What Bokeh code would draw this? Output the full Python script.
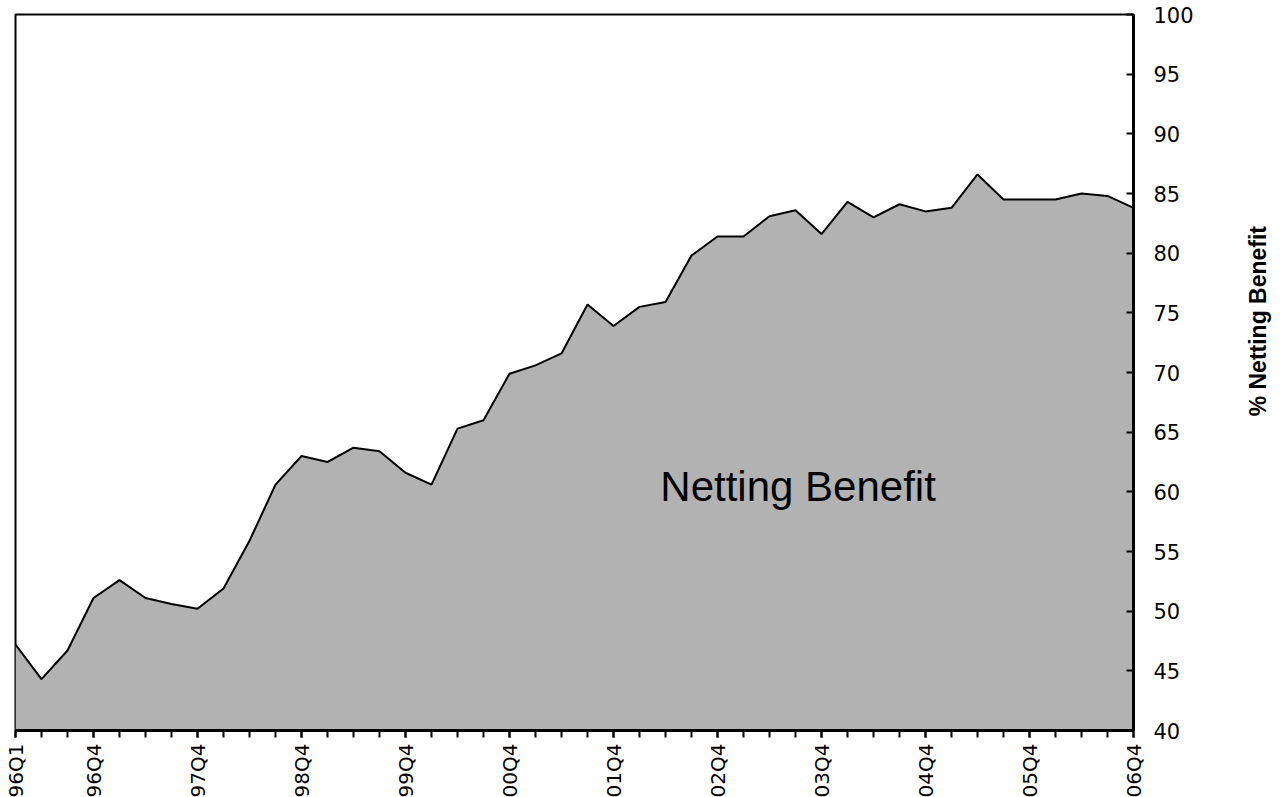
import math
from bokeh.plotting import figure
from bokeh.layouts import row
from bokeh.models import ColumnDataSource, FixedTicker, Label, Range1d
from bokeh.core.properties import value
from bokeh.embed import file_html
from bokeh.resources import INLINE

quarters = ["96Q1", "96Q2", "96Q3", "96Q4", "97Q1", "97Q2", "97Q3", "97Q4",
            "98Q1", "98Q2", "98Q3", "98Q4", "99Q1", "99Q2", "99Q3", "99Q4",
            "00Q1", "00Q2", "00Q3", "00Q4", "01Q1", "01Q2", "01Q3", "01Q4",
            "02Q1", "02Q2", "02Q3", "02Q4", "03Q1", "03Q2", "03Q3", "03Q4",
            "04Q1", "04Q2", "04Q3", "04Q4", "05Q1", "05Q2", "05Q3", "05Q4",
            "06Q1", "06Q2", "06Q3", "06Q4"]
netting_benefit = [47.2, 44.3, 46.7, 51.1, 52.6, 51.1, 50.6, 50.2,
                   51.9, 55.9, 60.6, 63.0, 62.5, 63.7, 63.4, 61.6,
                   60.6, 65.3, 66.0, 69.9, 70.6, 71.6, 75.7, 73.9,
                   75.5, 75.9, 79.8, 81.4, 81.4, 83.1, 83.6, 81.6,
                   84.3, 83.0, 84.1, 83.5, 83.8, 86.6, 84.5, 84.5,
                   84.5, 85.0, 84.8, 83.8]
tick_labels = ["96Q1", "96Q4", "97Q4", "98Q4", "99Q4", "00Q4", "01Q4",
               "02Q4", "03Q4", "04Q4", "05Q4", "06Q4"]
y_ticks = [40, 45, 50, 55, 60, 65, 70, 75, 80, 85, 90, 95, 100]
y_min, y_max = 40, 100
annotation_text = "Netting Benefit"
y_title = "% Netting Benefit"

xs = list(range(len(quarters)))
src = ColumnDataSource(dict(x=xs, y=netting_benefit, base=[y_min] * len(xs)))

p = figure(frame_width=1118, frame_height=716, output_backend="svg",
           toolbar_location=None, y_axis_location="right",
           x_range=Range1d(0, len(xs) - 1), y_range=Range1d(y_min, y_max),
           min_border_left=15, min_border_top=14, min_border_right=90,
           min_border_bottom=0)
p.background_fill_color = "white"
p.border_fill_color = "white"
p.outline_line_color = "black"
p.outline_line_width = 2
p.grid.visible = False

p.varea(x="x", y1="base", y2="y", source=src, fill_color="#b2b2b2")
p.line(x="x", y="y", source=src, line_color="black", line_width=2)

tick_pos = [quarters.index(t) for t in tick_labels]
xa = p.xaxis[0]
xa.ticker = FixedTicker(ticks=tick_pos, minor_ticks=xs)
xa.major_label_overrides = {i: t for i, t in zip(tick_pos, tick_labels)}
xa.major_label_orientation = math.pi / 2
xa.major_label_text_font = "DejaVu Sans"
xa.major_label_text_font_size = "20px"
xa.major_label_text_color = "black"
xa.major_label_standoff = 6
xa.axis_line_width = 3
xa.axis_line_color = "black"
xa.major_tick_in = 0
xa.major_tick_out = 7
xa.minor_tick_in = 0
xa.minor_tick_out = 7
xa.major_tick_line_width = 2
xa.minor_tick_line_width = 2
xa.major_tick_line_color = "black"
xa.minor_tick_line_color = "black"

ya = p.yaxis[0]
ya.ticker = FixedTicker(ticks=y_ticks, minor_ticks=[])
ya.major_label_text_font = "DejaVu Sans"
ya.major_label_text_font_size = "21px"
ya.major_label_text_color = "black"
ya.major_label_standoff = 20
ya.major_tick_in = 7
ya.major_tick_out = 0
ya.major_tick_line_width = 2
ya.major_tick_line_color = "black"
ya.axis_line_width = 3
ya.axis_line_color = "black"

p.add_layout(Label(x=24.8, y=60.45, text=annotation_text,
                   text_font="Liberation Sans", text_font_size="42px",
                   text_color="black", text_baseline="alphabetic"))

# narrow side panel holding the right-hand title (reads bottom to top)
side_h = 793
side = figure(width=60, height=side_h, output_backend="svg", toolbar_location=None,
              x_axis_location=None, y_axis_location=None,
              x_range=Range1d(0, 60), y_range=Range1d(0, side_h),
              min_border=0)
side.outline_line_color = None
side.grid.visible = False
side.border_fill_color = "white"
side.background_fill_color = "white"
side.text(x=[34], y=[side_h - 343], text=[y_title], angle=math.pi / 2,
          text_font=value("Liberation Sans"), text_font_style="bold",
          text_font_size="23px", text_color="black",
          text_align="center", text_baseline="middle")

layout = row(p, side, spacing=0)
open("out.html", "w").write(file_html(layout, INLINE))
